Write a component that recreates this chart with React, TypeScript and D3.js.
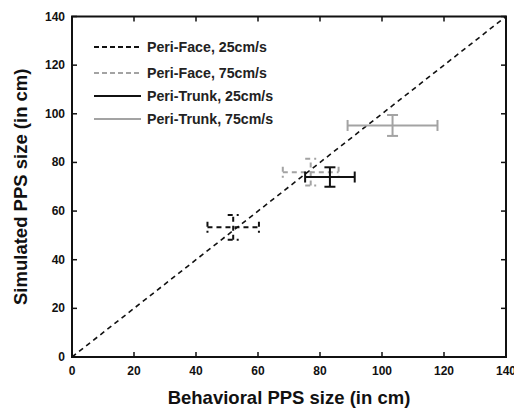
import React from 'react';
import * as d3 from 'd3';

// Behavioral vs simulated PPS size, one point per condition
const conditions = ['Peri-Face, 25cm/s', 'Peri-Face, 75cm/s', 'Peri-Trunk, 25cm/s', 'Peri-Trunk, 75cm/s'];
const behavioral = [52, 77, 83.2, 103.4];
const behavioralErr = [8.3, 9, 8, 14.5];
const simulated = [53.3, 76, 74, 95.2];
const simulatedErr = [5.1, 5.5, 4, 4.3];
const colors = ['#111', '#a3a3a3', '#111', '#a3a3a3'];
const dashed = [true, true, false, false];
const ticks = [0, 20, 40, 60, 80, 100, 120, 140];

const W = 514;
const H = 408;
const margin = { left: 72, right: 8, top: 16.5, bottom: 51 };
const font = '"Liberation Sans", Arial, Helvetica, sans-serif';

const App: React.FC = () => {
  const x = d3.scaleLinear().domain([0, 140]).range([margin.left, W - margin.right]);
  const y = d3.scaleLinear().domain([0, 140]).range([H - margin.bottom, margin.top]);
  const cap = 5.5;
  const tickLen = 5;
  const legendY = [47, 73, 96, 119];

  return (
    <svg width={W} height={H} style={{ position: 'absolute', left: 0, top: 0, background: '#fff' }} fontFamily={font}>
      {/* unity line */}
      <line x1={x(0)} y1={y(0)} x2={x(140)} y2={y(140)} stroke="#111" strokeWidth={1.6} strokeDasharray="5,4" />

      {/* error bars */}
      {conditions.map((c, i) => {
        const cx = x(behavioral[i]);
        const cy = y(simulated[i]);
        const x0 = x(behavioral[i] - behavioralErr[i]);
        const x1 = x(behavioral[i] + behavioralErr[i]);
        const y0 = y(simulated[i] - simulatedErr[i]);
        const y1 = y(simulated[i] + simulatedErr[i]);
        const dash = dashed[i] ? '5,4' : undefined;
        return (
          <g key={c} stroke={colors[i]} strokeWidth={2} fill="none" strokeDasharray={dash}>
            <line x1={x0} y1={cy} x2={x1} y2={cy} />
            <line x1={cx} y1={y0} x2={cx} y2={y1} />
            <line x1={x0} y1={cy - cap} x2={x0} y2={cy + cap} strokeDasharray={undefined} />
            <line x1={x1} y1={cy - cap} x2={x1} y2={cy + cap} strokeDasharray={undefined} />
            <line x1={cx - cap} y1={y0} x2={cx + cap} y2={y0} strokeDasharray={undefined} />
            <line x1={cx - cap} y1={y1} x2={cx + cap} y2={y1} strokeDasharray={undefined} />
          </g>
        );
      })}

      {/* box with inward ticks */}
      <rect x={x(0)} y={y(140)} width={x(140) - x(0)} height={y(0) - y(140)} fill="none" stroke="#111" strokeWidth={2} />
      {ticks.map(t => (
        <g key={t} stroke="#111" strokeWidth={1.5}>
          <line x1={x(t)} y1={y(0)} x2={x(t)} y2={y(0) - tickLen} />
          <line x1={x(t)} y1={y(140)} x2={x(t)} y2={y(140) + tickLen} />
          <line x1={x(0)} y1={y(t)} x2={x(0) + tickLen} y2={y(t)} />
          <line x1={x(140)} y1={y(t)} x2={x(140) - tickLen} y2={y(t)} />
        </g>
      ))}
      {ticks.map(t => (
        <text key={'x' + t} x={x(t)} y={y(0) + 18} textAnchor="middle" fontSize={12} fontWeight="bold" fill="#111">{t}</text>
      ))}
      {ticks.map(t => (
        <text key={'y' + t} x={x(0) - 7} y={y(t) + 4} textAnchor="end" fontSize={12} fontWeight="bold" fill="#111">{t}</text>
      ))}

      {/* axis labels */}
      <text x={(x(0) + x(140)) / 2} y={404} textAnchor="middle" fontSize={18.5} fontWeight="bold" fill="#111">Behavioral PPS size (in cm)</text>
      <text transform={`translate(27,${(y(0) + y(140)) / 2}) rotate(-90)`} textAnchor="middle" fontSize={18.5} fontWeight="bold" fill="#111">Simulated PPS size (in cm)</text>

      {/* legend */}
      {conditions.map((c, i) => (
        <g key={'l' + c}>
          <line x1={94} y1={legendY[i]} x2={141} y2={legendY[i]} stroke={colors[i]} strokeWidth={2} strokeDasharray={dashed[i] ? '5,3' : undefined} />
          <text x={147} y={legendY[i] + 5} fontSize={14.2} fontWeight="bold" fill="#222">{c}</text>
        </g>
      ))}
    </svg>
  );
};

export default App;
